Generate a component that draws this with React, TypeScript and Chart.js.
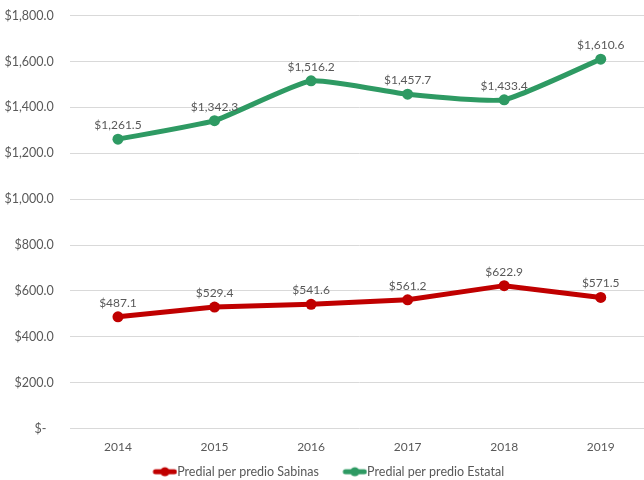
import React, { useEffect, useRef } from "react";
import { Chart, registerables } from "chart.js";

Chart.register(...registerables);

const years = ["2014", "2015", "2016", "2017", "2018", "2019"];
const sabinas = [487.1, 529.4, 541.6, 561.2, 622.9, 571.5];
const estatal = [1261.5, 1342.3, 1516.2, 1457.7, 1433.4, 1610.6];
const seriesNames = ["Predial per predio Sabinas", "Predial per predio Estatal"];
const seriesColors = ["#C00000", "#2E9A63"];

const FONT = "Lato, 'Open Sans', sans-serif";
const TEXT = "#595959";
const LEGEND_BOX = 32;
const LEGEND_FONT = 12.5;

function fmtMoney(v: number): string {
  return "$" + v.toLocaleString("en-US", { minimumFractionDigits: 1, maximumFractionDigits: 1 });
}

function makeMarker(color: string): HTMLCanvasElement {
  const gap = LEGEND_FONT / 2;
  const w = Math.round(LEGEND_BOX + gap * 2);
  const c = document.createElement("canvas");
  c.width = w;
  c.height = 12;
  const ctx = c.getContext("2d")!;
  const x0 = w - 25;
  ctx.strokeStyle = color;
  ctx.lineWidth = 5;
  ctx.lineCap = "round";
  ctx.beginPath();
  ctx.moveTo(x0 + 3, 6);
  ctx.lineTo(x0 + 22, 6);
  ctx.stroke();
  ctx.fillStyle = color;
  ctx.beginPath();
  ctx.arc(x0 + 12.5, 6, 4.5, 0, Math.PI * 2);
  ctx.fill();
  return c;
}

const dataLabelPlugin = {
  id: "dataLabels",
  afterDatasetsDraw(chart: any) {
    const ctx = chart.ctx;
    ctx.save();
    ctx.font = `12px ${FONT}`;
    ctx.fillStyle = TEXT;
    ctx.textAlign = "center";
    ctx.textBaseline = "middle";
    chart.data.datasets.forEach((ds: any, i: number) => {
      const meta = chart.getDatasetMeta(i);
      meta.data.forEach((pt: any, j: number) => {
        ctx.fillText(fmtMoney(ds.data[j]), pt.x, pt.y - 14);
      });
    });
    ctx.restore();
  },
};

export default function App() {
  const ref = useRef<HTMLCanvasElement>(null);
  useEffect(() => {
    const markers = seriesColors.map(makeMarker);
    const chart = new Chart(ref.current!, {
      type: "line",
      data: {
        labels: years,
        datasets: [
          {
            label: seriesNames[0],
            data: sabinas,
            borderColor: seriesColors[0],
            backgroundColor: seriesColors[0],
            borderWidth: 5,
            pointRadius: 5.5,
            pointBorderWidth: 0,
            tension: 0,
          },
          {
            label: seriesNames[1],
            data: estatal,
            borderColor: seriesColors[1],
            backgroundColor: seriesColors[1],
            borderWidth: 5,
            pointRadius: 5.5,
            pointBorderWidth: 0,
            tension: 0.15,
          },
        ],
      },
      options: {
        responsive: false,
        animation: false,
        layout: { padding: { top: 15.7, left: -6, right: 10, bottom: 0 } },
        plugins: {
          tooltip: { enabled: false },
          legend: {
            position: "bottom",
            labels: {
              usePointStyle: true,
              pointStyleWidth: LEGEND_BOX,
              padding: 10,
              color: TEXT,
              font: { family: FONT, size: LEGEND_FONT },
              generateLabels: (c: any) => {
                const items = (Chart.defaults.plugins.legend.labels as any).generateLabels(c);
                return items.map((it: any, i: number) => ({ ...it, pointStyle: markers[i] }));
              },
            },
          },
        },
        scales: {
          x: {
            offset: true,
            grid: { display: false, drawTicks: false },
            border: { display: false },
            ticks: { color: TEXT, font: { family: FONT, size: 12 }, padding: 11 },
            afterFit: (s: any) => {
              s.height = 27;
            },
          },
          y: {
            min: 0,
            max: 1800,
            grid: { color: "#D9D9D9", drawTicks: false, lineWidth: 1 },
            border: { display: false },
            ticks: {
              stepSize: 200,
              padding: 16,
              color: TEXT,
              font: { family: FONT, size: 12.5 },
              callback: (v: any) => (v === 0 ? "$-\u2007" : fmtMoney(Number(v))),
            },
            afterFit: (s: any) => {
              s.width = 75.7;
              s.paddingTop = 7;
              s.paddingBottom = 7;
            },
          },
        },
      },
      plugins: [dataLabelPlugin],
    });
    return () => chart.destroy();
  }, []);
  return (
    <div style={{ position: "fixed", left: 0, top: 0, width: 644, height: 480, overflow: "hidden", background: "#fff" }}>
      <canvas ref={ref} width={659} height={488} style={{ position: "absolute", left: 0, top: 0, width: 659, height: 488 }} />
    </div>
  );
}
